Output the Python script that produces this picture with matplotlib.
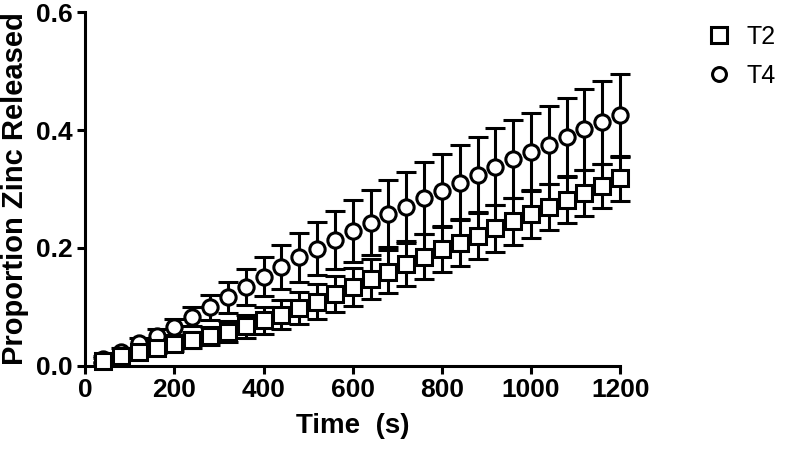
import numpy as np
import matplotlib.pyplot as plt
from matplotlib.lines import Line2D

plt.rcParams["font.family"] = ["Liberation Sans", "DejaVu Sans"]

# Time points (s)
time_s = np.arange(40, 1201, 40)

# T2 (squares)
t2_mean = [0.009, 0.016, 0.023, 0.030, 0.037, 0.044, 0.051, 0.058, 0.067, 0.077,
           0.087, 0.098, 0.109, 0.122, 0.134, 0.147, 0.160, 0.172, 0.185, 0.198,
           0.209, 0.221, 0.233, 0.245, 0.258, 0.270, 0.281, 0.293, 0.305, 0.318]
t2_err = [0.004, 0.005, 0.007, 0.009, 0.011, 0.013, 0.015, 0.018, 0.020, 0.023,
          0.025, 0.027, 0.029, 0.031, 0.032, 0.034, 0.036, 0.037, 0.038, 0.039,
          0.040, 0.040, 0.040, 0.040, 0.041, 0.039, 0.039, 0.039, 0.038, 0.038]

# T4 (circles)
t4_mean = [0.011, 0.024, 0.038, 0.051, 0.066, 0.083, 0.099, 0.116, 0.134, 0.151,
           0.168, 0.184, 0.199, 0.214, 0.229, 0.243, 0.258, 0.270, 0.284, 0.297,
           0.311, 0.324, 0.338, 0.351, 0.363, 0.375, 0.388, 0.401, 0.413, 0.425]
t4_err = [0.005, 0.007, 0.009, 0.011, 0.014, 0.016, 0.022, 0.027, 0.030, 0.033,
          0.037, 0.041, 0.045, 0.049, 0.052, 0.055, 0.057, 0.059, 0.061, 0.062,
          0.064, 0.064, 0.065, 0.066, 0.066, 0.066, 0.066, 0.068, 0.070, 0.070]

x_ticks = [0, 200, 400, 600, 800, 1000, 1200]
y_ticks = [0.0, 0.2, 0.4, 0.6]

fig = plt.figure(figsize=(7.89, 4.5), dpi=100)
ax = fig.add_axes([0.108, 0.187, 0.678, 0.786])

lw = 2.2
common = dict(color="black", ecolor="black", elinewidth=lw, capsize=7, capthick=lw,
              markersize=11, markeredgewidth=lw, markerfacecolor="white", linestyle="none")

for mean, err, mk, z in [(t4_mean, t4_err, "o", 3), (t2_mean, t2_err, "s", 4)]:
    cont = ax.errorbar(time_s, mean, yerr=err, marker=mk, zorder=z, **common)
    for art in cont.get_children():
        art.set_clip_on(False)

ax.set_xlim(0, 1200)
ax.set_ylim(0, 0.6)
ax.set_xticks(x_ticks)
ax.set_yticks(y_ticks)
ax.set_yticklabels([f"{v:.1f}" for v in y_ticks])

for side in ["top", "right"]:
    ax.spines[side].set_visible(False)
for side in ["left", "bottom"]:
    ax.spines[side].set_linewidth(lw)

ax.tick_params(direction="out", length=6, width=lw, labelsize=19, pad=3)
for lab in ax.get_xticklabels() + ax.get_yticklabels():
    lab.set_fontweight("bold")

ax.set_xlabel("Time  (s)", fontsize=20, fontweight="bold", labelpad=8)
ax.set_ylabel("Proportion Zinc Released", fontsize=21, fontweight="bold", labelpad=5)

handles = [
    Line2D([], [], marker="s", color="black", markerfacecolor="white", markersize=11,
           markeredgewidth=lw, linestyle="none", label="T2"),
    Line2D([], [], marker="o", color="black", markerfacecolor="white", markersize=10,
           markeredgewidth=lw, linestyle="none", label="T4"),
]
fig.legend(handles=handles, loc="upper left", bbox_to_anchor=(0.867, 0.995), frameon=False,
           fontsize=18, handlelength=1.0, handletextpad=0.6, labelspacing=0.6)

fig.savefig("out.png", dpi=100)
